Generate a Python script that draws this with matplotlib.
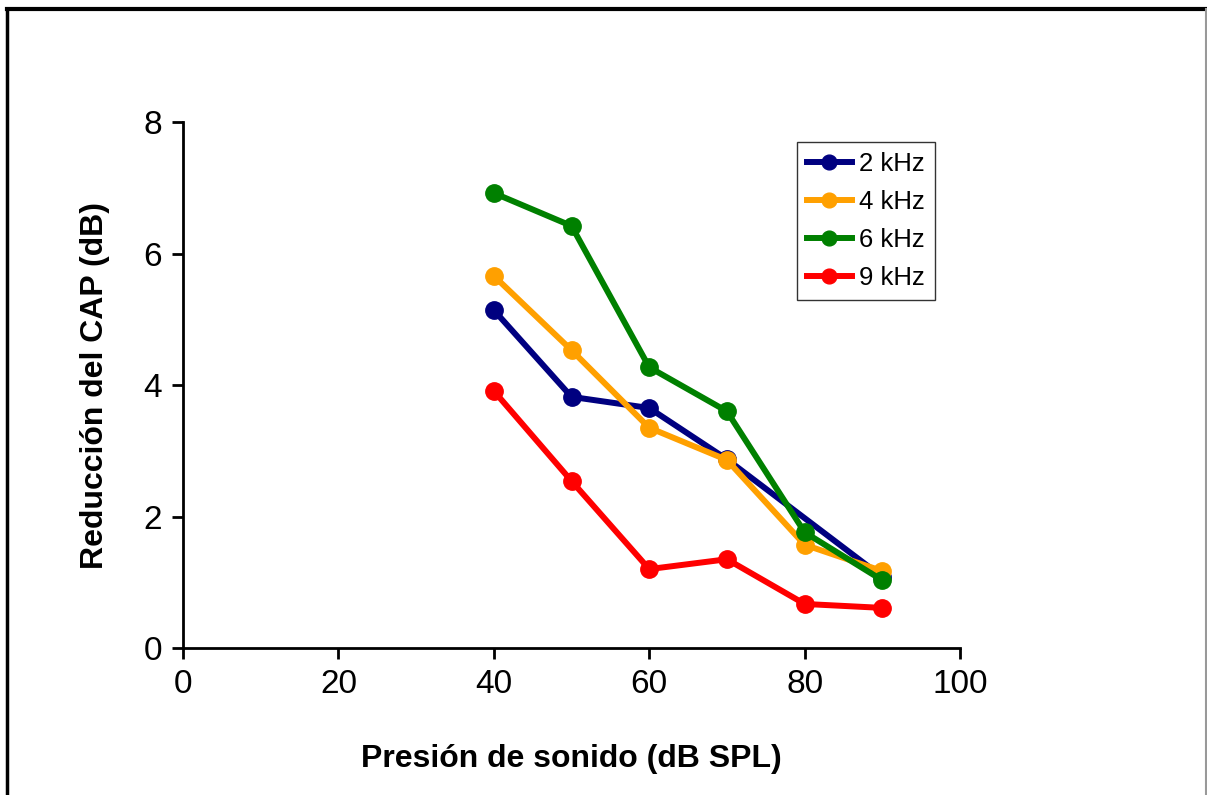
import matplotlib.pyplot as plt
from matplotlib.lines import Line2D

# data
x_2k = [40, 50, 60, 70, 90]
y_2k = [5.14, 3.82, 3.65, 2.87, 1.08]
x_all = [40, 50, 60, 70, 80, 90]
y_4k = [5.66, 4.53, 3.35, 2.86, 1.57, 1.17]
y_6k = [6.92, 6.42, 4.27, 3.60, 1.76, 1.03]
y_9k = [3.91, 2.54, 1.20, 1.35, 0.67, 0.61]

x_ticks = [0, 20, 40, 60, 80, 100]
y_ticks = [0, 2, 4, 6, 8]

plt.rcParams['font.family'] = ['Liberation Sans', 'DejaVu Sans']

fig = plt.figure(figsize=(12.07, 7.95), dpi=100)
ax = fig.add_axes([0.1516, 0.1849, 0.6438, 0.6616])

style = dict(marker='o', markersize=12.5, linewidth=4.3)
ax.plot(x_2k, y_2k, color='#000080', label='2 kHz', **style)
ax.plot(x_all, y_4k, color='#FFA000', label='4 kHz', **style)
ax.plot(x_all, y_6k, color='#008000', label='6 kHz', **style)
ax.plot(x_all, y_9k, color='#FF0000', label='9 kHz', **style)

ax.set_xlim(0, 100)
ax.set_ylim(0, 8)
ax.set_xticks(x_ticks)
ax.set_yticks(y_ticks)
ax.tick_params(direction='out', length=8, width=2, labelsize=24, pad=7)
for s in ['top', 'right']:
    ax.spines[s].set_visible(False)
for s in ['left', 'bottom']:
    ax.spines[s].set_linewidth(2)

ax.set_xlabel('Presión de sonido (dB SPL)', fontsize=23, fontweight='bold', labelpad=32)
ax.set_ylabel('Reducción del CAP (dB)', fontsize=23, fontweight='bold', labelpad=24)

leg = ax.legend(loc='upper left', bbox_to_anchor=(0.79, 0.962), fontsize=18.5,
                handlelength=1.75, handletextpad=0.3, labelspacing=0.55,
                borderpad=0.38, borderaxespad=0, fancybox=False, frameon=True,
                markerscale=0.85)
leg.get_frame().set_edgecolor('black')
leg.get_frame().set_linewidth(1)

# outer frame of the picture
fig.add_artist(Line2D([7 / 1207, 7 / 1207], [0, 1 - 9 / 795], color='black',
                      linewidth=2.5, transform=fig.transFigure))
fig.add_artist(Line2D([7 / 1207, 1206 / 1207], [1 - 9 / 795, 1 - 9 / 795], color='black',
                      linewidth=3, transform=fig.transFigure))
fig.add_artist(Line2D([1206 / 1207, 1206 / 1207], [0, 1 - 9 / 795], color='#999999',
                      linewidth=1.5, transform=fig.transFigure))

fig.savefig('out.png', dpi=100)
